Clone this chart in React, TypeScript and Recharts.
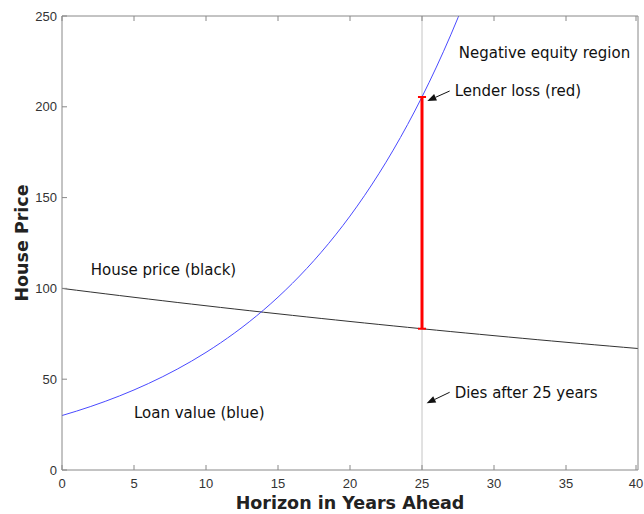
import { ComposedChart, Line, XAxis, YAxis, ReferenceLine, ReferenceDot, Label } from 'recharts'

// horizon in years
const years = [
  0, 1, 2, 3, 4, 5, 6, 7, 8, 9, 10, 11, 12, 13, 14, 15, 16, 17, 18, 19, 20,
  21, 22, 23, 24, 25, 26, 27, 28, 29, 30, 31, 32, 33, 34, 35, 36, 37, 38, 39, 40,
]
// house price (black) - slow decline from 100
const housePrice = [
  100, 99, 98.01, 97.03, 96.06, 95.1, 94.15, 93.21, 92.27, 91.35, 90.44,
  89.53, 88.64, 87.75, 86.87, 86.01, 85.15, 84.29, 83.45, 82.62, 81.79,
  80.97, 80.16, 79.36, 78.57, 77.78, 77.0, 76.23, 75.47, 74.72, 73.97,
  73.23, 72.5, 71.77, 71.06, 70.34, 69.64, 68.94, 68.26, 67.57, 66.9,
]
// loan value (blue) - compounding, runs off the top after ~27 years
const loanValue = [
  30, 32.4, 34.99, 37.79, 40.81, 44.08, 47.61, 51.41, 55.53, 59.97, 64.77,
  69.95, 75.55, 81.59, 88.12, 95.17, 102.79, 111.01, 119.89, 129.48, 139.83,
  151.02, 163.1, 176.15, 190.24, 205.45, 221.89, 239.64, 258.81,
]

const xTicks = [0, 5, 10, 15, 20, 25, 30, 35, 40]
const yTicks = [0, 50, 100, 150, 200, 250]

const deathYear = 25
const lenderLoss = { low: 77.8, high: 205.4 }

const textNotes = [
  { x: 27.55, y: 229.6, text: 'Negative equity region' },
  { x: 2.0, y: 110, text: 'House price (black)' },
  { x: 5.0, y: 31.4, text: 'Loan value (blue)' },
]

const arrowNotes = [
  { text: 'Lender loss (red)', tail: { x: 26.92, y: 208.7 }, head: { x: 25.37, y: 203.2 } },
  { text: 'Dies after 25 years', tail: { x: 26.92, y: 42.8 }, head: { x: 25.32, y: 36.7 } },
]

const data = years.map((year, i) => ({
  year,
  house: housePrice[i],
  loan: loanValue[i],
}))

const noteFont = { fontFamily: '"DejaVu Sans", sans-serif', fontSize: 15, fill: '#111' }
const tickFont = { fill: '#333', fontSize: 13, fontFamily: '"Liberation Sans", Arial, sans-serif' }
const titleFont = { fontFamily: '"DejaVu Sans", sans-serif', fontSize: 17.5, fontWeight: 'bold', fill: '#222' }
const AXIS = '#888'
const TICK_LEN = 5

// inward tick marks (matlab style), with labels on bottom/left only
const BottomTick = ({ x, y, payload }: any) => (
  <g>
    <line x1={x} y1={y} x2={x} y2={y - TICK_LEN} stroke={AXIS} />
    <text x={x} y={y + 9} dy="0.71em" textAnchor="middle" {...tickFont}>{payload.value}</text>
  </g>
)
const LeftTick = ({ x, y, payload }: any) => (
  <g>
    <line x1={x} y1={y} x2={x + TICK_LEN} y2={y} stroke={AXIS} />
    <text x={x - 5} y={y} dy="0.355em" textAnchor="end" {...tickFont}>{payload.value}</text>
  </g>
)
const TopTick = ({ x, y }: any) => <line x1={x} y1={y} x2={x} y2={y + TICK_LEN} stroke={AXIS} />
const RightTick = ({ x, y }: any) => <line x1={x} y1={y} x2={x - TICK_LEN} y2={y} stroke={AXIS} />

function ArrowShape(props: any) {
  const { x1, y1, x2, y2, text } = props
  const dx = x2 - x1
  const dy = y2 - y1
  const len = Math.sqrt(dx * dx + dy * dy) || 1
  const ux = dx / len
  const uy = dy / len
  const hl = 9
  const hw = 3.5
  const bx = x2 - ux * hl
  const by = y2 - uy * hl
  const p1 = `${x2},${y2}`
  const p2 = `${bx - uy * hw},${by + ux * hw}`
  const p3 = `${bx + uy * hw},${by - ux * hw}`
  return (
    <g>
      <line x1={x1} y1={y1} x2={bx} y2={by} stroke="#111" strokeWidth={1} />
      <polygon points={`${p1} ${p2} ${p3}`} fill="#111" />
      <text x={x1 + 5} y={y1} dy="0.35em" {...noteFont}>
        {text}
      </text>
    </g>
  )
}

export default function App() {
  return (
    <div style={{ position: 'absolute', left: 0, top: 0, background: '#fff' }}>
      <ComposedChart
        width={644}
        height={514}
        data={data}
        margin={{ top: 15, right: 5, left: 2, bottom: 0 }}
      >
        <XAxis
          xAxisId="bottom"
          dataKey="year"
          type="number"
          domain={[0, 40]}
          ticks={xTicks}
          height={44}
          stroke={AXIS}
          tickLine={false}
          tickSize={0}
          tickMargin={0}
          tick={BottomTick}
          allowDataOverflow
        >
          <Label value="Horizon in Years Ahead" position="insideTop" offset={27} style={titleFont} />
        </XAxis>
        <XAxis
          xAxisId="top"
          orientation="top"
          dataKey="year"
          type="number"
          domain={[0, 40]}
          ticks={xTicks}
          height={1}
          stroke={AXIS}
          tickLine={false}
          tickSize={0}
          tickMargin={0}
          tick={TopTick}
        />
        <YAxis
          yAxisId="left"
          type="number"
          domain={[0, 250]}
          ticks={yTicks}
          width={60}
          stroke={AXIS}
          tickLine={false}
          tickSize={0}
          tickMargin={0}
          tick={LeftTick}
          allowDataOverflow
        >
          <Label
            content={(p: any) => {
              const vb = p.viewBox || { x: 2, y: 16, width: 60, height: 454 }
              const cx = vb.x + vb.width - 40
              const cy = vb.y + vb.height / 2
              return (
                <text
                  x={cx}
                  y={cy}
                  textAnchor="middle"
                  dy="0.35em"
                  transform={`rotate(-90, ${cx}, ${cy})`}
                  {...titleFont}
                >
                  House Price
                </text>
              )
            }}
          />
        </YAxis>
        <YAxis
          yAxisId="right"
          orientation="right"
          type="number"
          domain={[0, 250]}
          ticks={yTicks}
          width={1}
          stroke={AXIS}
          tickLine={false}
          tickSize={0}
          tickMargin={0}
          tick={RightTick}
        />

        <ReferenceLine
          xAxisId="bottom"
          yAxisId="left"
          x={deathYear}
          stroke="#c4c4c4"
          strokeWidth={1}
        />

        <Line
          xAxisId="bottom"
          yAxisId="left"
          type="linear"
          dataKey="house"
          stroke="#333"
          strokeWidth={1}
          dot={false}
          isAnimationActive={false}
        />
        <Line
          xAxisId="bottom"
          yAxisId="left"
          type="monotone"
          dataKey="loan"
          stroke="#4a4aff"
          strokeWidth={1}
          dot={false}
          isAnimationActive={false}
        />

        <ReferenceLine
          xAxisId="bottom"
          yAxisId="left"
          segment={[
            { x: deathYear, y: lenderLoss.low },
            { x: deathYear, y: lenderLoss.high },
          ]}
          stroke="#ff0000"
          strokeWidth={3}
        />
        <ReferenceLine
          xAxisId="bottom"
          yAxisId="left"
          segment={[
            { x: deathYear - 0.28, y: lenderLoss.high },
            { x: deathYear + 0.28, y: lenderLoss.high },
          ]}
          stroke="#ff0000"
          strokeWidth={2}
        />
        <ReferenceLine
          xAxisId="bottom"
          yAxisId="left"
          segment={[
            { x: deathYear - 0.28, y: lenderLoss.low },
            { x: deathYear + 0.28, y: lenderLoss.low },
          ]}
          stroke="#ff0000"
          strokeWidth={2}
        />

        {arrowNotes.map((a) => (
          <ReferenceLine
            key={a.text}
            xAxisId="bottom"
            yAxisId="left"
            segment={[a.tail, a.head]}
            shape={(p: any) => <ArrowShape {...p} text={a.text} />}
          />
        ))}

        {textNotes.map((n) => (
          <ReferenceDot
            key={n.text}
            xAxisId="bottom"
            yAxisId="left"
            x={n.x}
            y={n.y}
            r={0}
            shape={(p: any) => (
              <text x={p.cx} y={p.cy} dy="0.35em" {...noteFont}>
                {n.text}
              </text>
            )}
          />
        ))}
      </ComposedChart>
    </div>
  )
}
